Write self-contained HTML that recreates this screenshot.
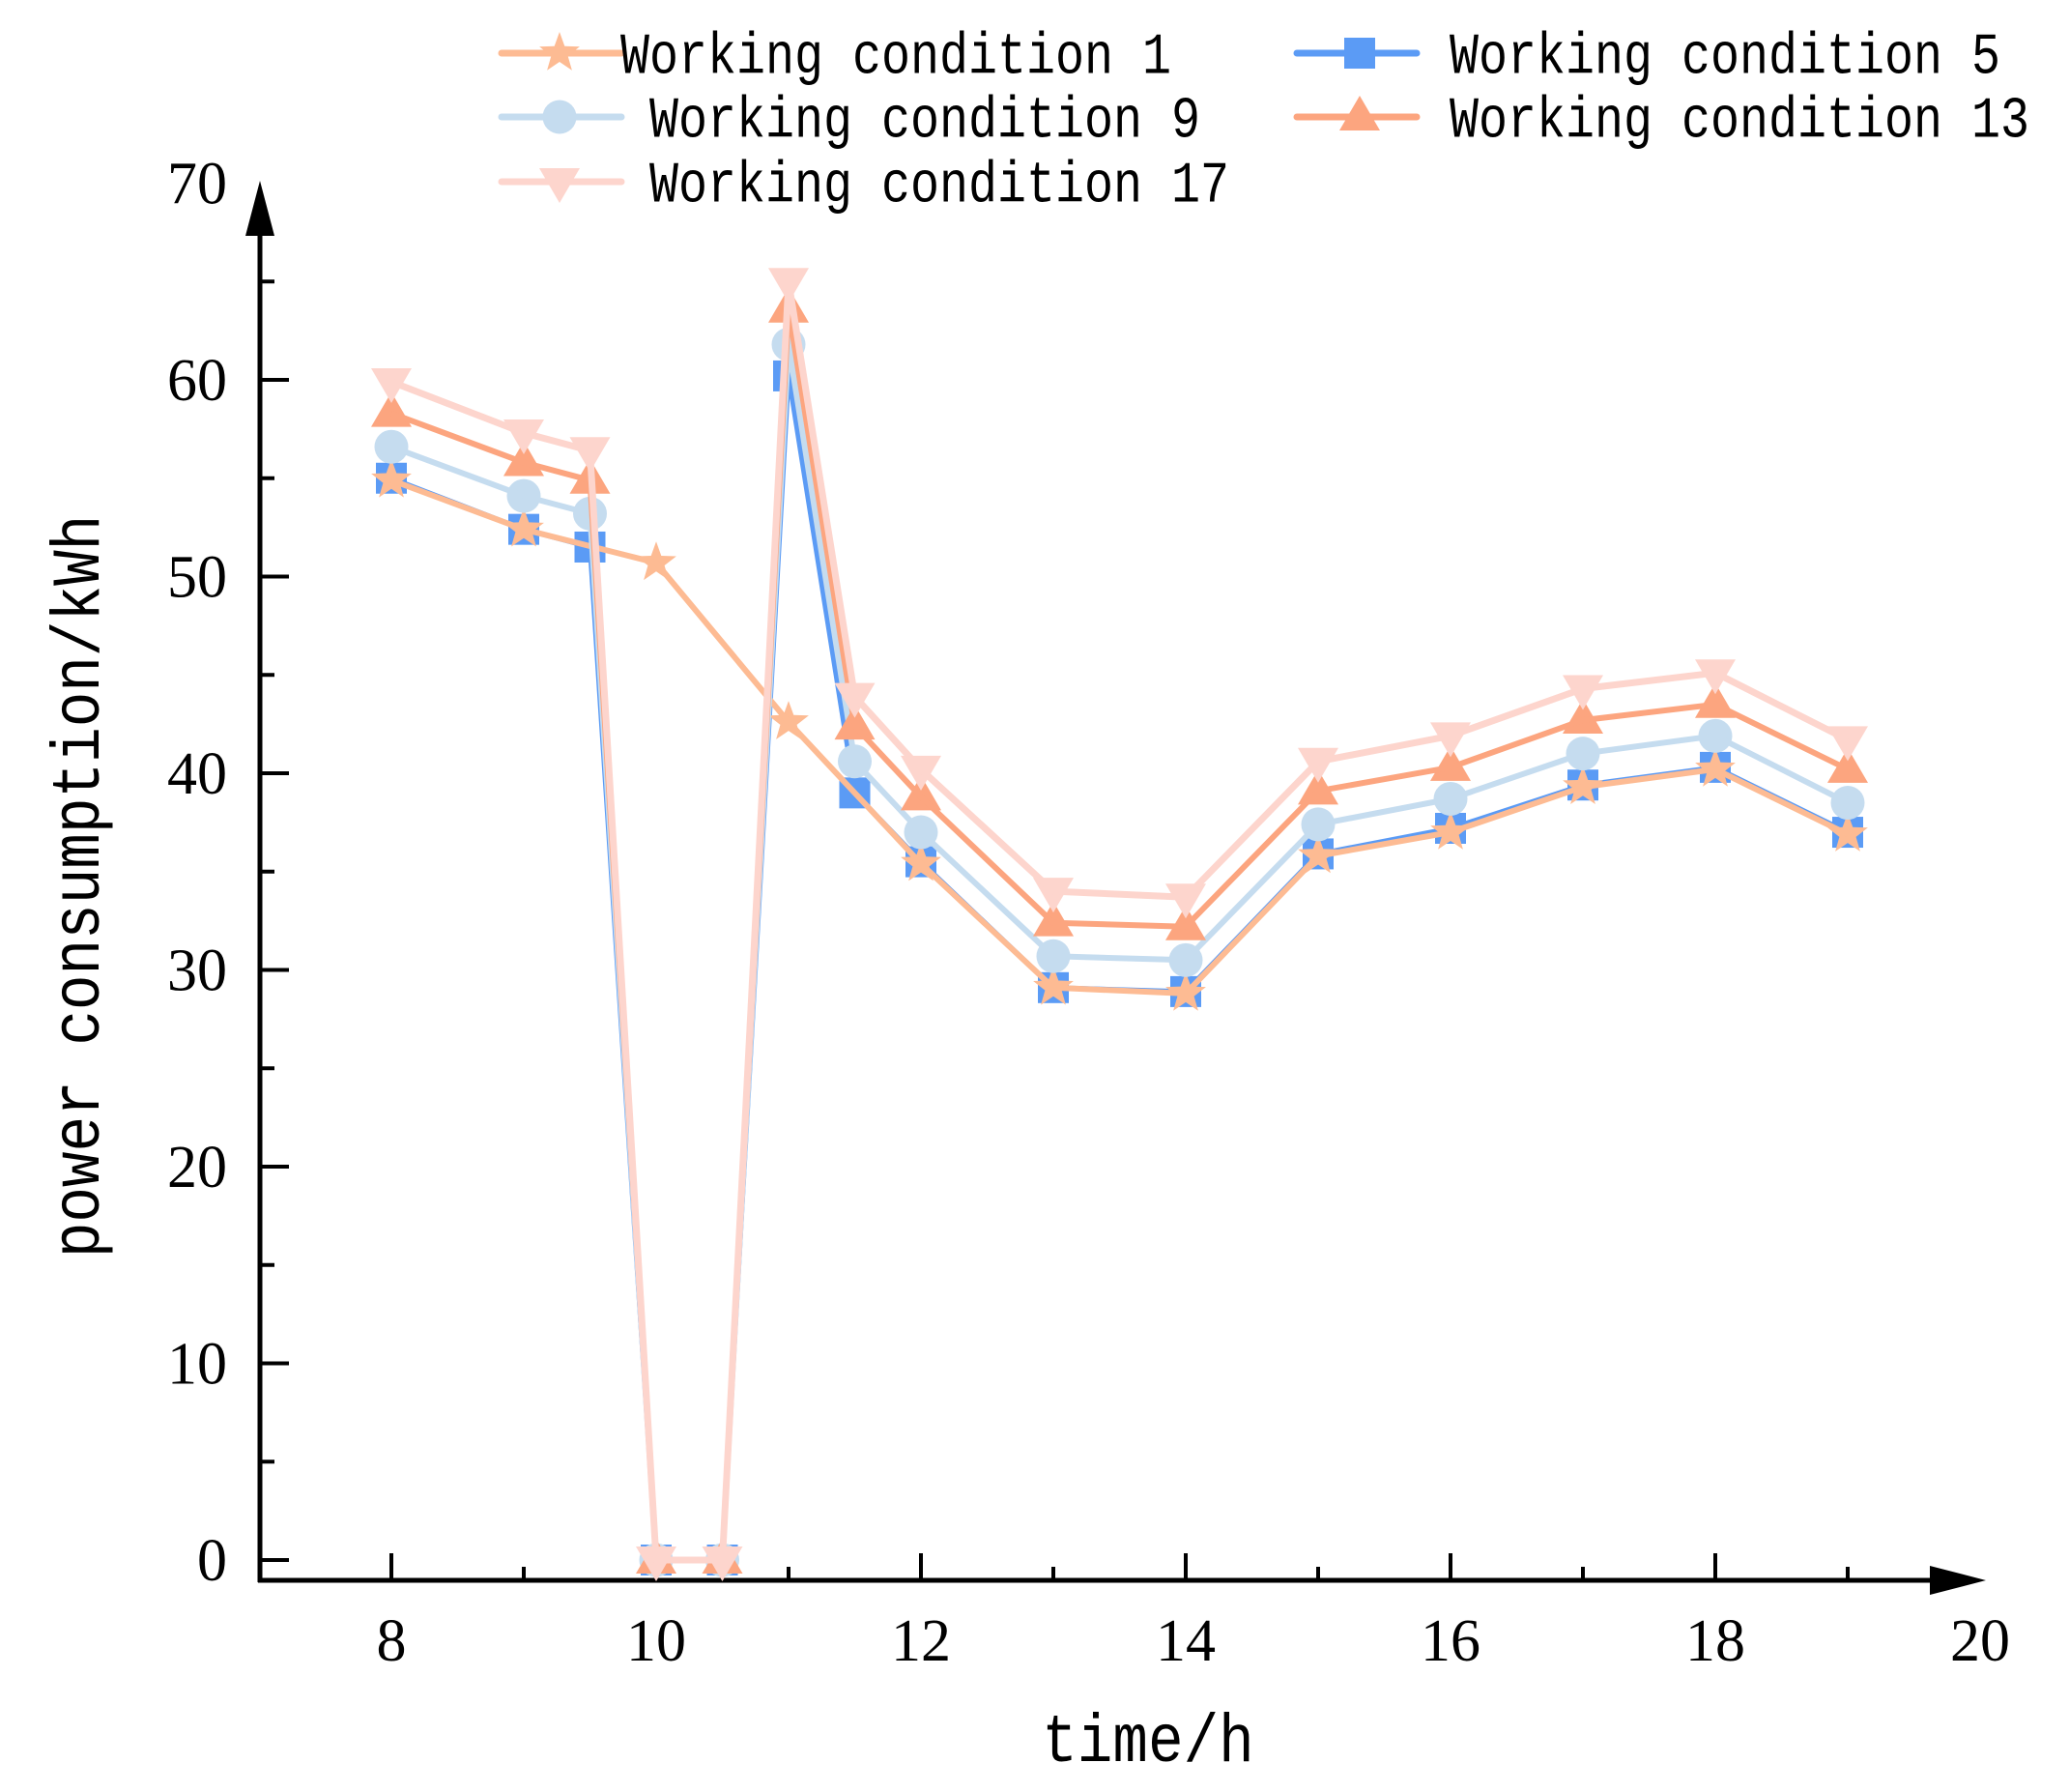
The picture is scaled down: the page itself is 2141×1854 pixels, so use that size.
<!DOCTYPE html>
<html><head><meta charset="utf-8"><style>
html,body{margin:0;padding:0;background:#fff;}
svg{display:block;}
.tick{font-family:"Liberation Serif",serif;font-size:62px;fill:#000;}
.leg{font-family:"Liberation Mono",monospace;font-size:50px;fill:#000;}
.ax{font-family:"Liberation Mono",monospace;font-size:61px;fill:#000;}
</style></head><body>
<svg id="chart" width="2141" height="1854" viewBox="0 0 2141 1854" xmlns="http://www.w3.org/2000/svg">
<g id="axes"></g>
<g id="series"></g>
<g id="legend"></g>
</svg>
<script>
const xHalf = [8, 9, 9.5, 10, 10.5, 11, 11.5, 12, 13, 14, 15, 16, 17, 18, 19];
const xHour = [8, 9, 10, 11, 12, 13, 14, 15, 16, 17, 18, 19];
const wc1 = [54.9, 52.4, 50.7, 42.6, 35.4, 29.1, 28.8, 35.8, 37.0, 39.3, 40.2, 36.9];
const wc5 = [55.0, 52.4, 51.5, 0, 0, 60.2, 39.0, 35.5, 29.1, 28.9, 35.9, 37.2, 39.4, 40.3, 37.0];
const wc9 = [56.6, 54.1, 53.2, 0, 0, 61.8, 40.6, 37.0, 30.7, 30.5, 37.4, 38.7, 41.0, 41.9, 38.5];
const wc13 = [58.3, 55.8, 54.9, 0, 0, 63.6, 42.4, 38.8, 32.4, 32.2, 39.1, 40.3, 42.7, 43.5, 40.2];
const wc17 = [59.9, 57.3, 56.4, 0, 0, 65.0, 43.9, 40.2, 34.0, 33.7, 40.6, 41.9, 44.3, 45.1, 41.7];
const xTicks = [8, 10, 12, 14, 16, 18, 20];
const yTicks = [0, 10, 20, 30, 40, 50, 60, 70];

const NS = "http://www.w3.org/2000/svg";
const X0 = 269, XU = 137, Y0 = 1614, YU = 20.35, AXY = 1635;
function sx(v){return 405 + (v - 8) * XU;}
function sy(v){return Y0 - v * YU;}
function mk(tag, attrs, parent){const e=document.createElementNS(NS,tag);for(const k in attrs)e.setAttribute(k,attrs[k]);parent.appendChild(e);return e;}

const axes = document.getElementById('axes');
let el;
el = mk('line',{x1:X0,y1:AXY+2,x2:X0,y2:240,stroke:'#000','stroke-width':5},axes);


el = mk('polygon',{points:`${X0},187 ${X0-15},244 ${X0+15},244`,fill:'#000'},axes);


el = mk('line',{x1:X0-2,y1:AXY,x2:2000,y2:AXY,stroke:'#000','stroke-width':5},axes);


el = mk('polygon',{points:`2055,${AXY} 1997,${AXY-15} 1997,${AXY+15}`,fill:'#000'},axes);


for(let v=0; v<=65; v+=5){
  const major = v%10===0;
  el = mk('line',{x1:X0,y1:sy(v),x2:X0+(major?30:15),y2:sy(v),stroke:'#000','stroke-width':4},axes);
  
  
}
yTicks.forEach(v=>{
  el = mk('text',{x:235,y:sy(v)+21,'text-anchor':'end',class:'tick'},axes);
  el.textContent = v;
  
  
});
for(let v=8; v<=19; v+=1){
  const major = v%2===0;
  el = mk('line',{x1:sx(v),y1:AXY,x2:sx(v),y2:AXY-(major?28:14),stroke:'#000','stroke-width':4},axes);
  
  
}
xTicks.forEach(v=>{
  el = mk('text',{x:sx(v),y:1718,'text-anchor':'middle',class:'tick'},axes);
  el.textContent = v;
  
  
});
el = mk('text',{x:1188,y:1822,'text-anchor':'middle',class:'ax',transform:'translate(1188 1822) scale(1 1.15) translate(-1188 -1822)'},axes);
el.textContent = 'time/h';


el = mk('text',{x:0,y:0,'text-anchor':'middle',class:'ax',transform:'translate(102 917) rotate(-90) scale(1 1.15)'},axes);
el.textContent = 'power consumption/kWh';



function marker(type, cx, cy, color, parent){
  let m;
  if(type==='star'){
    const pts=[];for(let i=0;i<10;i++){const r=i%2?9:22;const a=-Math.PI/2+i*Math.PI/5;pts.push((cx+r*Math.cos(a)).toFixed(1)+','+(cy+r*Math.sin(a)).toFixed(1));}
    m = mk('polygon',{points:pts.join(' '),fill:color},parent);
  } else if(type==='square'){
    m = mk('rect',{x:cx-16,y:cy-16,width:32,height:32,fill:color},parent);
  } else if(type==='circle'){
    m = mk('circle',{cx:cx,cy:cy,r:17.5,fill:color},parent);
  } else if(type==='up'){
    m = mk('polygon',{points:`${cx},${cy-22} ${cx-21},${cy+14} ${cx+21},${cy+14}`,fill:color},parent);
  } else {
    m = mk('polygon',{points:`${cx},${cy+22} ${cx-21},${cy-14} ${cx+21},${cy-14}`,fill:color},parent);
  }
  return m;
}

const seriesG = document.getElementById('series');
const defs = [
  {name:'wc5', xs:xHalf, ys:wc5, color:'#5B9BF5', m:'square', w:5},
  {name:'wc1', xs:xHour, ys:wc1, color:'#FDBB93', m:'star', w:6},
  {name:'wc9', xs:xHalf, ys:wc9, color:'#C5DCEF', m:'circle', w:6},
  {name:'wc13', xs:xHalf, ys:wc13, color:'#FCA57F', m:'up', w:6},
  {name:'wc17', xs:xHalf, ys:wc17, color:'#FDD5CD', m:'down', w:7}
];
defs.forEach(d=>{
  const g = mk('g',{},seriesG);
  
  
  d.xs.forEach((x,i)=>{
    const p = marker(d.m, sx(x), sy(d.ys[i]), d.color, g);
    
    
  });
  const pts = d.xs.map((x,i)=>sx(x).toFixed(1)+','+sy(d.ys[i]).toFixed(1)).join(' ');
  const l = mk('polyline',{points:pts,fill:'none',stroke:d.color,'stroke-width':d.w,'stroke-linejoin':'round'},g);
  
  
});

const legendG = document.getElementById('legend');
const legItems = [
  {label:'Working condition 1', color:'#FDBB93', m:'star', lx:519, mx:579, tx:642, y:55},
  {label:'Working condition 9', color:'#C5DCEF', m:'circle', lx:519, mx:579, tx:672, y:121},
  {label:'Working condition 17', color:'#FDD5CD', m:'down', lx:519, mx:579, tx:672, y:188},
  {label:'Working condition 5', color:'#5B9BF5', m:'square', lx:1342, mx:1407, tx:1500, y:55},
  {label:'Working condition 13', color:'#FCA57F', m:'up', lx:1342, mx:1407, tx:1500, y:121}
];
legItems.forEach(it=>{
  const g = mk('g',{},legendG);
  
  
  const ln = mk('line',{x1:it.lx,y1:it.y,x2:it.lx+124,y2:it.y,stroke:it.color,'stroke-width':7,'stroke-linecap':'round'},g);
  
  
  const mm = marker(it.m, it.mx, it.y, it.color, g);
  
  
  const t = mk('text',{x:it.tx,y:it.y+17,class:'leg',transform:`translate(0 ${it.y}) scale(1 1.2) translate(0 ${-it.y})`},g);
  t.textContent = it.label;
  
  
});
</script>
</body></html>
